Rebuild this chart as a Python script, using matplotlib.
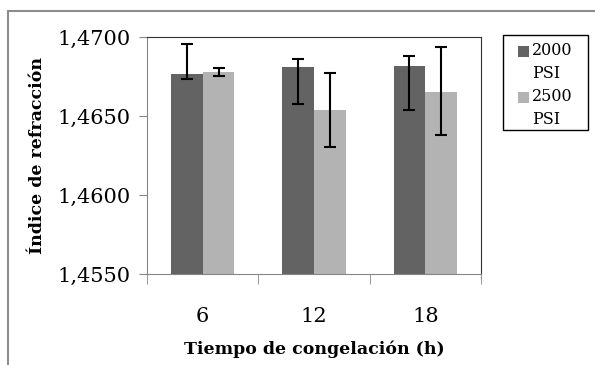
import numpy as np
import matplotlib
matplotlib.use("Agg")
import matplotlib.pyplot as plt
from matplotlib.patches import Rectangle

# ------------------------------------------------------------
# Data
# ------------------------------------------------------------
categories = ["6", "12", "18"]
series_names = ["2000\nPSI", "2500\nPSI"]
vals_2000 = [1.46766, 1.46808, 1.46816]
vals_2500 = [1.46779, 1.46538, 1.46654]
err_hi_2000 = [1.46956, 1.46861, 1.46880]
err_lo_2000 = [1.46734, 1.46576, 1.46540]
err_hi_2500 = [1.46804, 1.46770, 1.46939]
err_lo_2500 = [1.46753, 1.46306, 1.46378]
y_ticks = [1.4550, 1.4600, 1.4650, 1.4700]
y_tick_labels = ["1,4550", "1,4600", "1,4650", "1,4700"]

plt.rcParams["font.family"] = ["DejaVu Serif"]

W, H = 595, 365
fig = plt.figure(figsize=(W / 100, H / 100), dpi=100)
ax = fig.add_axes([147 / W, 1 - 274 / H, (481 - 147) / W, (274 - 37) / H])

x = np.arange(len(categories))
w = 1 / 3.5
colors = ["#636363", "#b3b3b3"]

for i, (vals, hi, lo) in enumerate([(vals_2000, err_hi_2000, err_lo_2000),
                                    (vals_2500, err_hi_2500, err_lo_2500)]):
    vals = np.array(vals)
    yerr = np.vstack([vals - np.array(lo), np.array(hi) - vals])
    pos = x + (i - 0.5) * w
    ax.bar(pos, vals - 1.4550, bottom=1.4550, width=w, color=colors[i], zorder=2)
    ax.errorbar(pos, vals, yerr=yerr, fmt="none", ecolor="black",
                elinewidth=1.5, capsize=4.3, capthick=1.5, zorder=3)

ax.set_xlim(-0.5, len(categories) - 0.5)
ax.set_ylim(1.4550, 1.4700)
ax.set_yticks(y_ticks)
ax.set_yticklabels(y_tick_labels, fontsize=15)
ax.set_xticks(x)
ax.set_xticklabels(categories, fontsize=15)
ax.set_xticks([-0.5, 0.5, 1.5, 2.5], minor=True)
ax.tick_params(axis="x", which="major", length=0, pad=24)
ax.tick_params(axis="x", which="minor", length=7, color="#868686")
ax.tick_params(axis="y", length=6, color="#868686", pad=6)
for s in ["left", "bottom"]:
    ax.spines[s].set_color("#868686")
for s in ["top", "right"]:
    ax.spines[s].set_color("#333333")
    ax.spines[s].set_linewidth(0.8)

ax.set_xlabel("Tiempo de congelación (h)", fontsize=12.5, fontweight="bold", labelpad=10)
ax.set_ylabel("Índice de refracción", fontsize=12.5, fontweight="bold", labelpad=8)

# legend drawn by hand: marker next to the first line of each two-line label
fig.patches.append(Rectangle((503 / W, 1 - 130 / H), 85 / W, 95 / H,
                             transform=fig.transFigure, fill=False,
                             edgecolor="black", linewidth=1.0))
for i, name in enumerate(series_names):
    top = 45 + i * 46
    fig.patches.append(Rectangle((518 / W, 1 - (top + 12) / H), 11 / W, 11 / H,
                                 transform=fig.transFigure, facecolor=colors[i],
                                 edgecolor="none"))
    fig.text(532 / W, 1 - (top - 3) / H, name, fontsize=11.5, va="top",
             ha="left", linespacing=1.45)

# outer chart frame (only the left and top edges are inside the picture)
fig.patches.append(Rectangle((8 / W, -0.1), 1.0, 1.1 - 11 / H,
                             transform=fig.transFigure, fill=False,
                             edgecolor="#8c8c8c", linewidth=1.5))

fig.savefig("out.png", dpi=100)
